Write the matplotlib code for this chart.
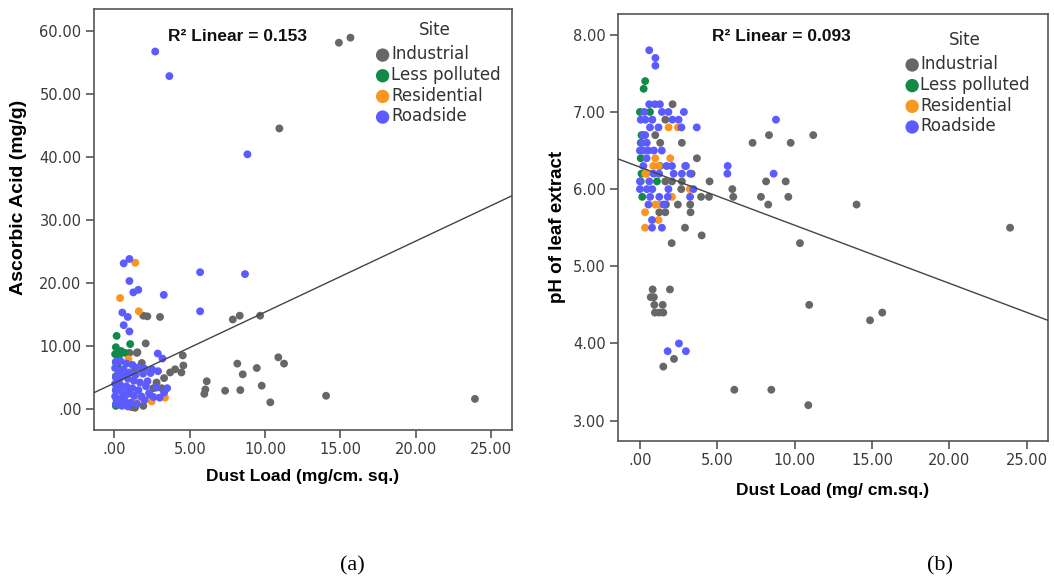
import matplotlib
matplotlib.use("Agg")
import matplotlib.pyplot as plt
import numpy as np

# ---------------- data: panel (a) Ascorbic acid vs dust load ----------------
a_ind_x = [14.9, 15.67, 10.95, 1.92, 2.19, 3.03, 7.86, 8.32, 9.67, 2.08, 1.53, 4.54, 10.88, 11.26,
           8.16, 9.45, 8.52, 4.58, 4.03, 3.70, 4.45, 6.13, 6.04, 5.97, 7.35, 8.36, 9.78, 10.35,
           14.05, 23.93, 1.49, 1.0, 1.37, 1.82, 2.59, 3.14, 2.37, 1.15, 1.92, 1.37, 2.8, 3.3]
a_ind_y = [58.1, 58.9, 44.5, 14.8, 14.7, 14.6, 14.2, 14.8, 14.8, 10.4, 9.0, 8.5, 8.2, 7.2,
           7.2, 6.5, 5.5, 6.9, 6.3, 5.8, 5.8, 4.4, 3.1, 2.4, 2.9, 3.0, 3.7, 1.06,
           2.1, 1.6, 8.9, 8.9, 6.5, 7.3, 3.3, 3.3, 2.2, 0.3, 0.5, 0.2, 4.2, 4.9]
a_les_x = [0.15, 1.05, 0.1, 0.45, 0.7, 0.05, 0.3, 0.1, 0.2, 0.1, 0.1, 0.15, 0.1, 0.3]
a_les_y = [11.6, 10.3, 9.8, 9.2, 8.9, 8.7, 8.4, 7.4, 6.8, 5.2, 3.0, 1.5, 0.5, 0.8]
a_res_x = [1.39, 0.38, 1.62, 0.93, 0.71, 1.26, 1.49, 2.48, 3.36]
a_res_y = [23.2, 17.6, 15.5, 7.9, 5.9, 4.6, 1.4, 1.2, 1.8]
a_road_x = [2.71, 3.65, 8.83, 0.62, 1.0, 5.69, 8.67, 1.0, 1.26, 1.59, 3.28, 5.69, 0.53, 0.89,
            0.62, 1.0, 2.88, 3.19,
            0.1, 0.4, 0.8, 1.2, 1.6, 2.0, 2.5, 2.9, 0.05, 0.3, 0.6, 1.0, 1.4, 1.9, 2.4,
            0.1, 0.5, 0.9, 1.3, 1.7, 2.2, 0.05, 0.4, 0.8, 1.2, 1.6, 2.1, 2.8, 3.5,
            0.1, 0.5, 0.9, 1.3, 1.8, 2.3, 3.0, 3.3, 0.05, 0.3, 0.7, 1.1, 1.5, 2.0, 2.6,
            0.1, 0.5, 0.9, 0.2, 0.6, 1.0, 0.3, 0.7]
a_road_y = [56.7, 52.8, 40.4, 23.1, 23.8, 21.7, 21.4, 20.3, 18.5, 18.9, 18.1, 15.5, 15.3, 14.6,
            13.3, 12.3, 8.8, 8.0,
            7.5, 7.6, 7.2, 7.0, 6.6, 6.4, 6.3, 6.0, 6.5, 6.0, 6.3, 5.8, 5.4, 5.6, 5.7,
            5.0, 5.2, 4.8, 4.5, 4.2, 4.4, 4.0, 3.8, 3.6, 3.3, 3.0, 3.6, 3.4, 3.3,
            3.0, 2.7, 2.4, 2.1, 2.0, 2.5, 1.8, 2.6, 2.0, 1.5, 1.3, 1.0, 0.8, 1.4, 1.9,
            0.8, 0.5, 0.4, 1.1, 2.0, 3.0, 4.5, 5.5]
a_fit = [4.11, 1.126]          # intercept, slope of linear fit
a_r2 = "0.153"

# ---------------- data: panel (b) pH vs dust load ----------------
b_ind_x = [2.11, 1.64, 0.99, 8.34, 11.2, 1.31, 2.71, 7.28, 9.74, 3.68, 2.93, 1.29, 3.34, 1.64,
           2.07, 2.71, 4.5, 8.15, 9.42, 2.67, 5.97, 3.95, 4.46, 6.03, 7.82, 9.59, 1.68, 2.45,
           3.25, 8.29, 14.0, 1.25, 1.64, 3.27, 2.91, 23.92, 3.99, 2.05, 10.34, 0.82, 1.94,
           0.7, 0.9, 0.93, 1.47, 0.97, 1.25, 1.51, 10.94, 14.87, 15.66, 2.20, 1.51, 6.10,
           8.49, 10.88]
b_ind_y = [7.1, 6.9, 6.7, 6.7, 6.7, 6.6, 6.6, 6.6, 6.6, 6.4, 6.3, 6.3, 6.2, 6.1,
           6.1, 6.1, 6.1, 6.1, 6.1, 6.0, 6.0, 5.9, 5.9, 5.9, 5.9, 5.9, 5.8, 5.8,
           5.8, 5.8, 5.8, 5.7, 5.7, 5.7, 5.5, 5.5, 5.4, 5.3, 5.3, 4.7, 4.7,
           4.6, 4.6, 4.5, 4.5, 4.4, 4.4, 4.4, 4.5, 4.3, 4.4, 3.8, 3.7, 3.4,
           3.4, 3.2]
b_les_x = [0.34, 0.24, 0.0, 0.65, 0.1, 0.05, 0.1, 0.05, 1.1, 0.15, 0.05]
b_les_y = [7.4, 7.3, 7.0, 7.0, 6.7, 6.4, 6.2, 6.1, 6.1, 5.9, 6.6]
b_res_x = [1.85, 2.45, 0.99, 1.96, 0.86, 1.21, 0.34, 0.43, 3.22, 2.07, 0.99, 1.29, 0.33, 1.2, 0.33]
b_res_y = [6.8, 6.8, 6.4, 6.4, 6.3, 6.3, 6.2, 6.2, 6.0, 5.9, 5.8, 5.8, 5.7, 5.6, 5.5]
b_road_x = [0.6, 1.0, 1.0, 0.6, 0.97, 1.29, 0.28, 1.42, 1.84, 2.84, 0.05, 0.35, 0.8, 2.1, 2.5,
            0.65, 1.2, 2.68, 3.67, 0.21, 0.34, 8.79, 0.11, 0.44, 0.0, 0.21, 0.54, 0.9, 1.41,
            0.43, 0.22, 1.72, 2.07, 2.97, 5.67, 0.88, 1.24, 2.18, 2.71, 3.25, 5.65, 8.64,
            0.0, 0.6, 0.0, 0.45, 0.8, 1.84, 3.46, 0.66, 1.25, 1.8, 3.24, 0.55, 1.53, 0.78,
            0.78, 1.42, 2.52, 1.79, 2.97]
b_road_y = [7.8, 7.7, 7.6, 7.1, 7.1, 7.1, 7.0, 7.0, 7.0, 7.0, 6.9, 6.9, 6.9, 6.9, 6.9,
            6.8, 6.8, 6.8, 6.8, 6.7, 6.7, 6.9, 6.6, 6.6, 6.5, 6.5, 6.5, 6.5, 6.5,
            6.4, 6.3, 6.3, 6.3, 6.3, 6.3, 6.2, 6.2, 6.2, 6.2, 6.2, 6.2, 6.2,
            6.1, 6.1, 6.0, 6.0, 6.0, 6.0, 6.0, 5.9, 5.9, 5.9, 5.9, 5.8, 5.8, 5.6,
            5.5, 5.5, 4.0, 3.9, 3.9]
b_fit = [6.285, -0.0753]
b_r2 = "0.093"

sites = ["Industrial", "Less polluted", "Residential", "Roadside"]
colors = ["#676767", "#128a47", "#f8961f", "#5b5bff"]
xticks = [0, 5, 10, 15, 20, 25]
a_yticks = [0, 10, 20, 30, 40, 50, 60]
b_yticks = [3, 4, 5, 6, 7, 8]

# ---------------- figure ----------------
fig = plt.figure(figsize=(10.54, 5.84), dpi=100)
axA = fig.add_axes([0.0892, 0.2637, 0.3963, 0.7204])
axB = fig.add_axes([0.5866, 0.2454, 0.4074, 0.7307])

tickfont = dict(family="DejaVu Sans", size=10.5)
labfont = dict(family="Liberation Sans", size=12.5, weight="bold")


def fmt(v):
    s = "%.2f" % v
    return s.lstrip("0") if v == 0 else s


def style(ax, xlim, ylim, yticks):
    ax.set_xlim(*xlim)
    ax.set_ylim(*ylim)
    ax.set_xticks(xticks)
    ax.set_xticklabels([fmt(v) for v in xticks], fontdict=tickfont, color="#3a3a3a")
    ax.set_yticks(yticks)
    ax.set_yticklabels([fmt(v) for v in yticks], fontdict=tickfont, color="#3a3a3a")
    for s in ax.spines.values():
        s.set_color("#555555")
        s.set_linewidth(1.2)
    ax.tick_params(direction="out", length=6, width=1.2, color="#555555", pad=3,
                   top=False, right=False)


def draw(ax, groups, fit, xlim, r2, r2pos, sitepos, legpos):
    for (xs, ys), c, lab in zip(groups, colors, sites):
        ax.scatter(xs, ys, s=32, color=c, edgecolors="none", label=lab, zorder=3)
    xx = np.array(xlim)
    ax.plot(xx, fit[0] + fit[1] * xx, color="#444444", lw=1.0, zorder=4)
    ax.text(r2pos[0], r2pos[1], "R\u00b2 Linear = " + r2, transform=ax.transAxes,
            fontsize=12.5, fontweight="bold", family="Liberation Sans", color="#111111",
            ha="left", va="center")
    ax.text(sitepos[0], sitepos[1], "Site", transform=ax.transAxes, fontsize=12,
            family="DejaVu Sans", color="#333333", ha="center", va="center")
    leg = ax.legend(loc="upper left", bbox_to_anchor=legpos, frameon=False,
                    markerscale=1.7, handletextpad=0.0, handlelength=1.0, labelspacing=0.16,
                    borderaxespad=0.0, borderpad=0.0,
                    prop=dict(family="DejaVu Sans", size=12))
    for t in leg.get_texts():
        t.set_color("#333333")


a_xlim = (-1.35, 26.37)
b_xlim = (-1.40, 26.35)
draw(axA, [(a_ind_x, a_ind_y), (a_les_x, a_les_y), (a_res_x, a_res_y), (a_road_x, a_road_y)],
     a_fit, a_xlim, a_r2, (0.178, 0.935), (0.816, 0.950), (0.671, 0.914))
draw(axB, [(b_ind_x, b_ind_y), (b_les_x, b_les_y), (b_res_x, b_res_y), (b_road_x, b_road_y)],
     b_fit, b_xlim, b_r2, (0.218, 0.947), (0.807, 0.939), (0.665, 0.903))
style(axA, a_xlim, (-3.33, 63.4), a_yticks)
style(axB, b_xlim, (2.74, 8.27), b_yticks)

axA.set_xlabel("Dust Load (mg/cm. sq.)", fontdict=labfont, labelpad=8)
axA.set_ylabel("Ascorbic Acid (mg/g)", fontdict=dict(labfont, size=14))
axA.yaxis.set_label_coords(-0.16, 0.554)
axB.set_xlabel("Dust Load (mg/ cm.sq.)", fontdict=labfont, labelpad=11)
axB.set_ylabel("pH of leaf extract", fontdict=dict(labfont, size=13.5), labelpad=5)

fig.text(352 / 1054, 1 - 566 / 584, "(a)", ha="center", va="center",
         family="Liberation Serif", fontsize=16)
fig.text(940 / 1054, 1 - 566 / 584, "(b)", ha="center", va="center",
         family="Liberation Serif", fontsize=16)

fig.savefig("out.png", dpi=100)
